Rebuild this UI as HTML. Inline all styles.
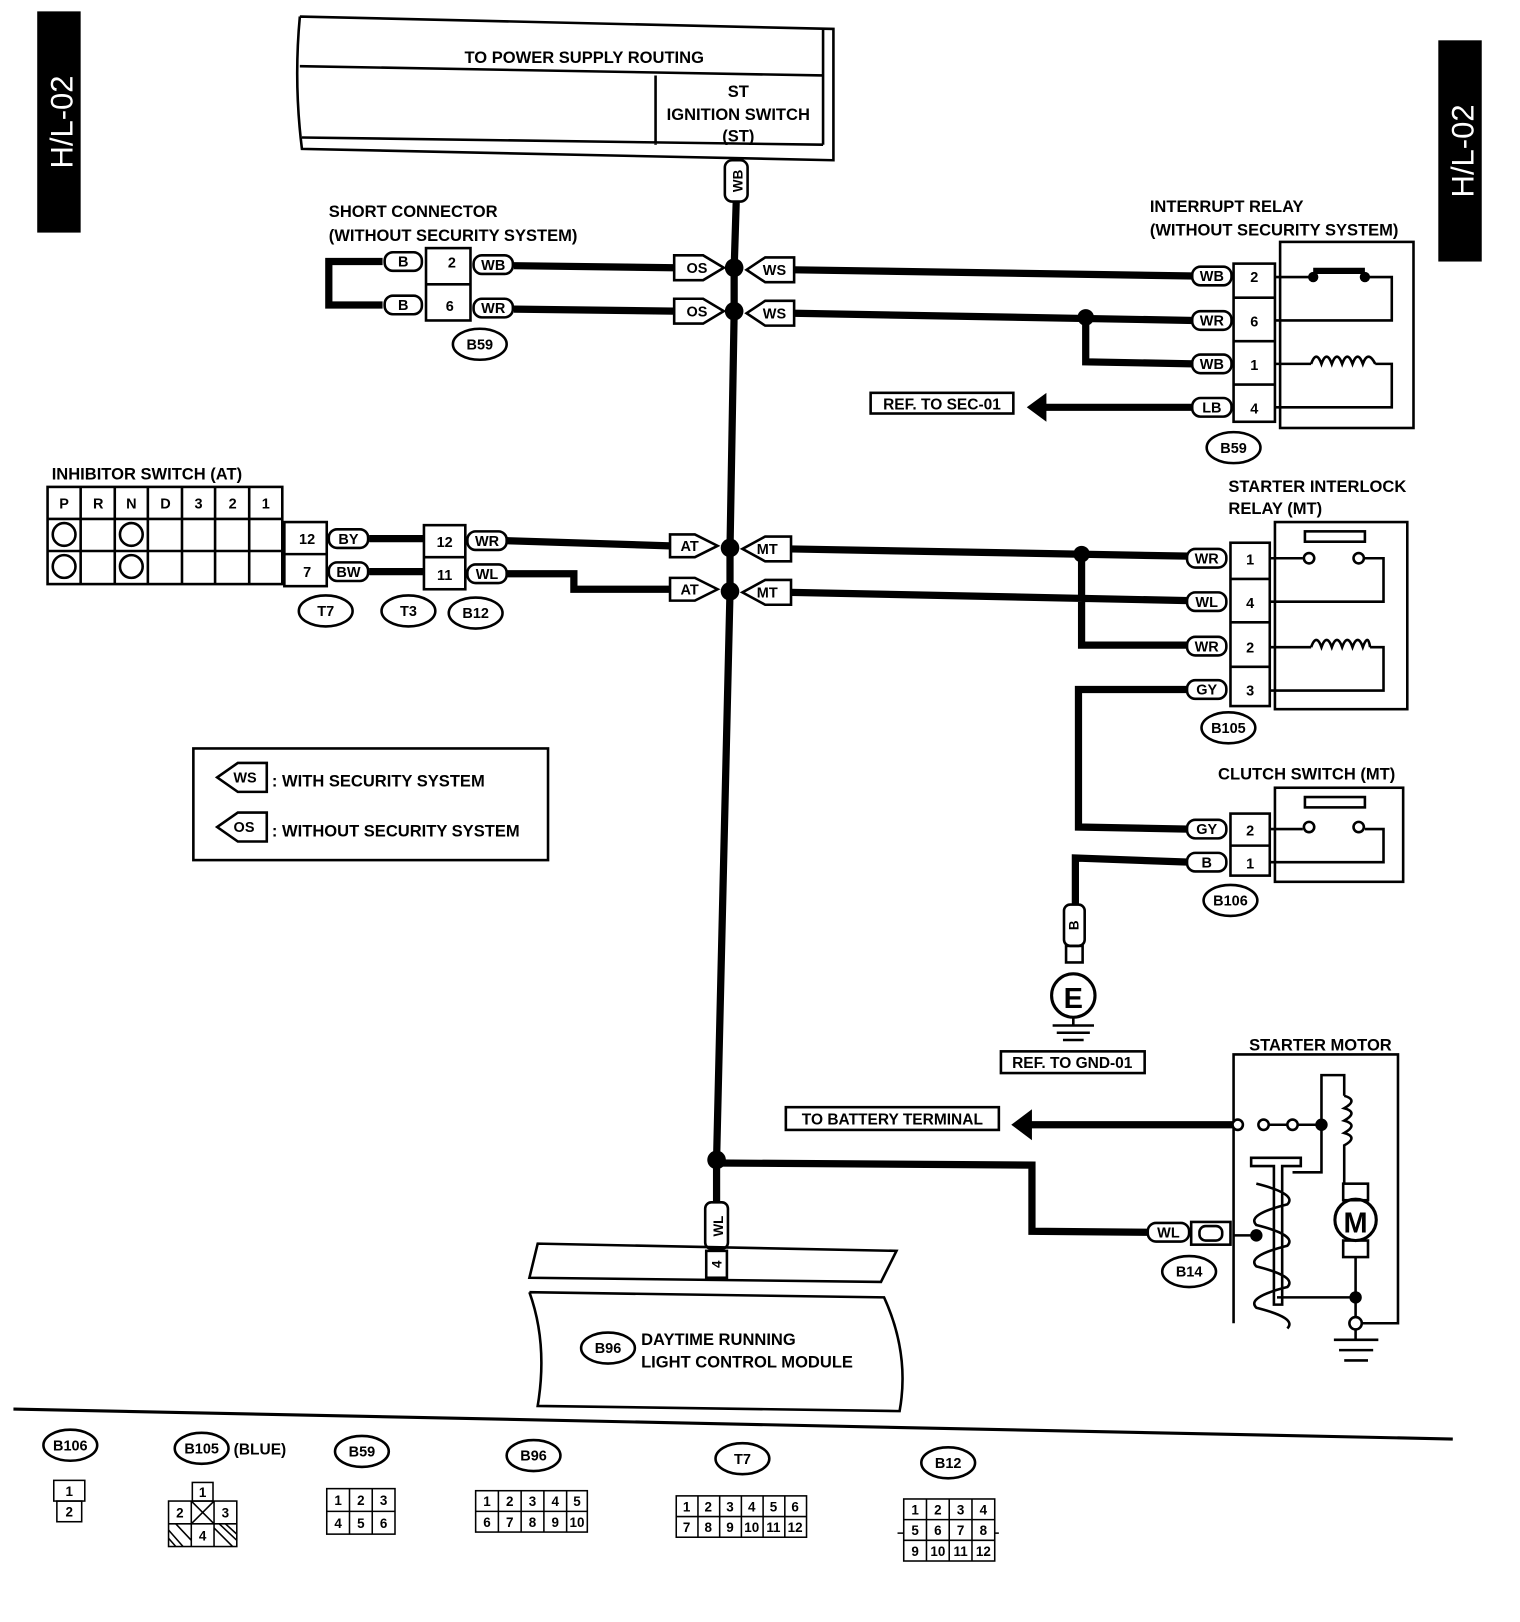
<!DOCTYPE html>
<html><head><meta charset="utf-8"><style>
html,body{margin:0;padding:0;background:#fff}
svg{display:block}
text{font-family:"Liberation Sans",sans-serif;font-weight:bold;fill:#000}
</style></head><body>
<svg width="1520" height="1622" viewBox="0 0 1470 1569" preserveAspectRatio="none" xmlns="http://www.w3.org/2000/svg">
<g fill="none" stroke="#000" stroke-width="2">
<rect x="37" y="12" width="40" height="212" fill="#000"/>
<rect x="1392" y="40" width="40" height="212" fill="#000"/>
</g>
<text transform="translate(70,118) rotate(-90)" font-size="30" text-anchor="middle" style="fill:#fff;font-weight:normal">H/L-02</text>
<text transform="translate(1425,146) rotate(-90)" font-size="30" text-anchor="middle" style="fill:#fff;font-weight:normal">H/L-02</text>

<g fill="none" stroke="#000" stroke-width="2.5">
<path d="M290,16 L806,28 L806,155 L292,144 Q284,80 290,16"/>
<path d="M290,64 L796,73 M292,133 L796,140 M796,28 L796,140 M634,73 L634,140"/>
<rect x="412" y="240" width="43" height="70"/>
<line x1="412" y1="275" x2="455" y2="275"/>
<rect x="1193" y="255" width="40" height="153"/>
<path d="M1193,288 H1233 M1193,330 H1233 M1193,372 H1233"/>
<rect x="1238" y="234" width="129" height="180"/>
<path d="M1233,268 H1270 M1320,268 H1346 V310 H1233 M1233,352 H1268 M1330,352 H1346 V394 H1233"/>
<path d="M1268,352 q5,-14 10,0 q5,-14 10,0 q5,-14 10,0 q5,-14 10,0 q5,-14 10,0 q5,-14 12,0"/>
<rect x="842" y="380" width="138" height="20"/>
<rect x="46" y="471" width="227" height="94"/>
<path d="M46,502 H273 M46,533 H273"/>
<path d="M78,471 V565 M111,471 V565 M143,471 V565 M176,471 V565 M208,471 V565 M241,471 V565"/>
<circle cx="62" cy="517" r="11"/><circle cx="62" cy="548" r="11"/>
<circle cx="127" cy="517" r="11"/><circle cx="127" cy="548" r="11"/>
<rect x="275" y="505" width="41" height="62"/><line x1="275" y1="536" x2="316" y2="536"/>
<rect x="410" y="508" width="40" height="62"/><line x1="410" y1="539" x2="450" y2="539"/>
<rect x="1190" y="525" width="38" height="158"/>
<path d="M1190,560 H1228 M1190,602 H1228 M1190,645 H1228"/>
<rect x="1233" y="505" width="128" height="181"/>
<rect x="1262" y="514" width="58" height="10"/>
<path d="M1228,540 H1260 M1320,540 H1338 V582 H1228 M1228,626 H1268 M1325,626 H1338 V668 H1228"/>
<path d="M1268,626 q5,-14 10,0 q5,-14 10,0 q5,-14 10,0 q5,-14 10,0 q5,-14 10,0 q5,-14 7,0"/>
<circle cx="1266" cy="540" r="5"/><circle cx="1314" cy="540" r="5"/>
<rect x="1190" y="787" width="38" height="60"/><line x1="1190" y1="818" x2="1228" y2="818"/>
<rect x="1233" y="762" width="124" height="91"/>
<rect x="1262" y="771" width="58" height="10"/>
<path d="M1228,802 H1260 M1320,802 H1338 V834 H1228"/>
<circle cx="1266" cy="800" r="5"/><circle cx="1314" cy="800" r="5"/>
<rect x="1029" y="875" width="20" height="40" rx="6"/>
<rect x="1031" y="915" width="16" height="16"/>
<circle cx="1038" cy="963" r="21" stroke-width="3"/>
<path d="M1038,984 V992 M1018,992 H1058 M1022,999 H1054 M1028,1006 H1048"/>
<rect x="968" y="1017" width="139" height="21"/>
<path d="M1193,1280 V1020 H1352 V1280 H1310"/>
<rect x="760" y="1071" width="206" height="22"/>
<circle cx="1197" cy="1088" r="5" fill="#fff"/><circle cx="1222" cy="1088" r="5"/><circle cx="1250" cy="1088" r="5"/>
<path d="M1227,1088 H1245 M1255,1088 H1278 V1134 H1250 M1278,1088 V1040 H1300 V1060"/>
<path d="M1300,1060 q14,4 0,12 q14,4 0,12 q14,4 0,12 q14,4 0,12 V1145"/>
<rect x="1299" y="1145" width="24" height="16"/><rect x="1299" y="1200" width="24" height="16"/>
<circle cx="1311" cy="1180" r="20" stroke-width="3"/>
<path d="M1311,1216 V1255 M1235,1255 H1311 M1311,1255 V1280"/>
<path d="M1210,1120 H1258 V1128 H1240 V1262 H1232 V1128 H1210 Z"/>
<path d="M1215,1145 q40,10 30,20 q-40,10 -30,20 q40,10 30,20 q-40,10 -30,20 q40,10 30,20 q-40,10 -30,20 q40,10 30,20"/>
<path d="M1193,1195 H1215"/>
<circle cx="1311" cy="1280" r="6" fill="#fff"/>
<path d="M1311,1286 V1296 M1290,1296 H1333 M1295,1306 H1328 M1300,1316 H1323"/>
<rect x="1152" y="1182" width="38" height="22"/><rect x="1160" y="1186" width="22" height="14" rx="6"/>
<rect x="187" y="724" width="343" height="108"/>
<path d="M520,1203 L867,1210 L852,1240 L512,1236 Z"/>
<path d="M512,1250 L855,1255 Q880,1310 870,1365 L520,1360 Q530,1300 512,1250"/>
<rect x="683" y="1210" width="20" height="26"/>
<rect x="682" y="1163" width="22" height="45" rx="6"/>
<path d="M13,1363 L1405,1392" stroke-width="3"/>
</g>

<g fill="none" stroke="#000" stroke-width="7">
<path d="M712,195 L710,260 L710,302 L706,530 L706,572 L693,1122 L693,1163"/>
<path d="M370,253 H318 V295 H370"/>
<path d="M497,257 L652,259 M497,299 L652,301"/>
<path d="M768,261 L1155,267 M768,303 L1155,310 M1050,307 V350 L1155,352 M1155,394 H1010"/>
<path d="M357,521 H410 M357,553 H410"/>
<path d="M490,523 L648,528 M490,555 H555 V570 H648"/>
<path d="M765,531 L1150,538 M765,573 L1150,581 M1046,536 V624 H1150 M1150,667 H1043 V800 L1150,802 M1150,834 L1040,830 V875"/>
<path d="M993,1088 H1192 M693,1125 L998,1127 V1191 L1110,1192"/>
<path d="M1270,262 H1320" stroke-width="6"/>
</g>
<polygon points="993,394 1012,380 1012,408" fill="#000"/>
<polygon points="978,1088 998,1073 998,1103" fill="#000"/>

<g fill="#000">
<circle cx="710" cy="259" r="9"/><circle cx="710" cy="301" r="9"/>
<circle cx="706" cy="530" r="9"/><circle cx="706" cy="572" r="9"/>
<circle cx="693" cy="1122" r="9"/><circle cx="1050" cy="307" r="8"/>
<circle cx="1046" cy="536" r="8"/><circle cx="1278" cy="1088" r="6"/>
<circle cx="1215" cy="1195" r="6"/><circle cx="1311" cy="1255" r="6"/>
<circle cx="1270" cy="268" r="5"/><circle cx="1320" cy="268" r="5"/>
</g>

<g fill="#fff" stroke="#000" stroke-width="2.5">
<polygon points="652,247 680,247 700,259 680,271 652,271"/>
<polygon points="652,289 680,289 700,301 680,313 652,313"/>
<polygon points="768,249 740,249 722,261 740,273 768,273"/>
<polygon points="768,291 740,291 722,303 740,315 768,315"/>
<polygon points="648,517 672,517 694,528 672,539 648,539"/>
<polygon points="648,559 672,559 694,570 672,581 648,581"/>
<polygon points="765,519 740,519 718,531 740,543 765,543"/>
<polygon points="765,561 740,561 718,573 740,585 765,585"/>
<polygon points="258,738 230,738 210,752 230,766 258,766"/>
<polygon points="258,786 230,786 210,800 230,814 258,814"/>
<rect x="701" y="155" width="22" height="40" rx="7"/>
<rect x="372" y="244" width="36" height="18" rx="8"/><rect x="372" y="286" width="36" height="18" rx="8"/>
<rect x="458" y="247" width="38" height="18" rx="8"/><rect x="458" y="289" width="38" height="18" rx="8"/>
<rect x="1153" y="258" width="38" height="18" rx="8"/><rect x="1153" y="301" width="38" height="18" rx="8"/>
<rect x="1153" y="343" width="38" height="18" rx="8"/><rect x="1153" y="385" width="38" height="18" rx="8"/>
<rect x="318" y="512" width="38" height="18" rx="8"/><rect x="318" y="544" width="38" height="18" rx="8"/>
<rect x="452" y="514" width="38" height="18" rx="8"/><rect x="452" y="546" width="38" height="18" rx="8"/>
<rect x="1148" y="531" width="38" height="18" rx="8"/><rect x="1148" y="573" width="38" height="18" rx="8"/>
<rect x="1148" y="616" width="38" height="18" rx="8"/><rect x="1148" y="658" width="38" height="18" rx="8"/>
<rect x="1148" y="793" width="38" height="18" rx="8"/><rect x="1148" y="825" width="38" height="18" rx="8"/>
<rect x="1110" y="1183" width="40" height="18" rx="8"/>
<ellipse cx="464" cy="333" rx="26" ry="15"/><ellipse cx="1193" cy="433" rx="26" ry="15"/>
<ellipse cx="315" cy="591" rx="26" ry="15"/><ellipse cx="395" cy="591" rx="26" ry="15"/><ellipse cx="460" cy="593" rx="26" ry="15"/>
<ellipse cx="1188" cy="704" rx="26" ry="15"/><ellipse cx="1190" cy="871" rx="26" ry="15"/>
<ellipse cx="1150" cy="1230" rx="26" ry="15"/><ellipse cx="588" cy="1304" rx="26" ry="15"/>
<ellipse cx="68" cy="1398" rx="26" ry="15"/><ellipse cx="195" cy="1401" rx="26" ry="15"/>
<ellipse cx="350" cy="1404" rx="26" ry="15"/><ellipse cx="516" cy="1408" rx="26" ry="15"/>
<ellipse cx="718" cy="1411" rx="26" ry="15"/><ellipse cx="917" cy="1415" rx="26" ry="15"/>
</g>

<g font-size="16">
<text x="565" y="61" text-anchor="middle">TO POWER SUPPLY ROUTING</text>
<text x="714" y="94" text-anchor="middle">ST</text>
<text x="714" y="116" text-anchor="middle">IGNITION SWITCH</text>
<text x="714" y="137" text-anchor="middle">(ST)</text>
<text x="318" y="210">SHORT CONNECTOR</text>
<text x="318" y="233">(WITHOUT SECURITY SYSTEM)</text>
<text x="1112" y="205">INTERRUPT RELAY</text>
<text x="1112" y="228">(WITHOUT SECURITY SYSTEM)</text>
<text x="911" y="396" text-anchor="middle" font-size="15">REF. TO SEC-01</text>
<text x="50" y="464">INHIBITOR SWITCH (AT)</text>
<text x="1188" y="476">STARTER INTERLOCK</text>
<text x="1188" y="497">RELAY (MT)</text>
<text x="1178" y="754">CLUTCH SWITCH (MT)</text>
<text x="1037" y="1033" text-anchor="middle" font-size="15">REF. TO GND-01</text>
<text x="1208" y="1016">STARTER MOTOR</text>
<text x="863" y="1088" text-anchor="middle" font-size="15">TO BATTERY TERMINAL</text>
<text x="263" y="761">: WITH SECURITY SYSTEM</text>
<text x="263" y="809">: WITHOUT SECURITY SYSTEM</text>
<text x="620" y="1301">DAYTIME RUNNING</text>
<text x="620" y="1323">LIGHT CONTROL MODULE</text>
</g>
<g font-size="14" text-anchor="middle">
<text x="674" y="264">OS</text><text x="674" y="306">OS</text>
<text x="749" y="266">WS</text><text x="749" y="308">WS</text>
<text x="667" y="533">AT</text><text x="667" y="575">AT</text>
<text x="742" y="536">MT</text><text x="742" y="578">MT</text>
<text x="237" y="757">WS</text><text x="236" y="805">OS</text>
<text x="390" y="258">B</text><text x="390" y="300">B</text>
<text x="437" y="259">2</text><text x="435" y="301">6</text>
<text x="477" y="261">WB</text><text x="477" y="303">WR</text>
<text x="1172" y="272">WB</text><text x="1172" y="315">WR</text><text x="1172" y="357">WB</text><text x="1172" y="399">LB</text>
<text x="1213" y="273">2</text><text x="1213" y="316">6</text><text x="1213" y="358">1</text><text x="1213" y="400">4</text>
<text x="62" y="492">P</text><text x="95" y="492">R</text><text x="127" y="492">N</text><text x="160" y="492">D</text><text x="192" y="492">3</text><text x="225" y="492">2</text><text x="257" y="492">1</text>
<text x="297" y="526">12</text><text x="297" y="558">7</text>
<text x="337" y="526">BY</text><text x="337" y="558">BW</text>
<text x="430" y="529">12</text><text x="430" y="561">11</text>
<text x="471" y="528">WR</text><text x="471" y="560">WL</text>
<text x="1167" y="545">WR</text><text x="1167" y="587">WL</text><text x="1167" y="630">WR</text><text x="1167" y="672">GY</text>
<text x="1209" y="546">1</text><text x="1209" y="588">4</text><text x="1209" y="631">2</text><text x="1209" y="673">3</text>
<text x="1167" y="807">GY</text><text x="1167" y="839">B</text>
<text x="1209" y="808">2</text><text x="1209" y="840">1</text>
<text x="1130" y="1197">WL</text>
<text x="464" y="338">B59</text><text x="1193" y="438">B59</text>
<text x="315" y="596">T7</text><text x="395" y="596">T3</text><text x="460" y="598">B12</text>
<text x="1188" y="709">B105</text><text x="1190" y="876">B106</text><text x="1150" y="1235">B14</text>
<text x="588" y="1309">B96</text>
<text x="68" y="1403">B106</text><text x="195" y="1406">B105</text><text x="350" y="1409">B59</text>
<text x="516" y="1413">B96</text><text x="718" y="1416">T7</text><text x="917" y="1420">B12</text>
</g>
<text x="226" y="1407" font-size="15">(BLUE)</text>
<text transform="translate(718,175) rotate(-90)" font-size="13" text-anchor="middle">WB</text>
<text transform="translate(1043,895) rotate(-90)" font-size="13" text-anchor="middle">B</text>
<text transform="translate(699,1186) rotate(-90)" font-size="13" text-anchor="middle">WL</text>
<text transform="translate(698,1223) rotate(-90)" font-size="13" text-anchor="middle">4</text>
<text x="1311" y="1192" font-size="28" text-anchor="middle">M</text>
<text x="1038" y="975" font-size="28" text-anchor="middle">E</text>

<g fill="none" stroke="#000" stroke-width="1.5">
<rect x="52" y="1432" width="30" height="20"/><rect x="55" y="1452" width="24" height="20"/>
<rect x="186" y="1434" width="20" height="18"/>
<rect x="163" y="1452" width="66" height="44"/><path d="M185,1452 V1496 M207,1452 V1496 M163,1474 H229 M185,1452 L207,1474 M207,1452 L185,1474"/>
<path d="M163,1480 L177,1496 M163,1488 L170,1496 M170,1474 L185,1490 M207,1478 L225,1496 M212,1474 L229,1490 M218,1474 L229,1484"/>
<rect x="316" y="1440" width="66" height="44"/><path d="M338,1440 V1484 M360,1440 V1484 M316,1462 H382"/>
<rect x="460" y="1442" width="108" height="40"/><path d="M482,1442 V1482 M504,1442 V1482 M526,1442 V1482 M548,1442 V1482 M460,1462 H568"/>
<rect x="654" y="1447" width="126" height="40"/><path d="M675,1447 V1487 M696,1447 V1487 M717,1447 V1487 M738,1447 V1487 M759,1447 V1487 M654,1467 H780"/>
<rect x="874" y="1450" width="88" height="60"/><path d="M896,1450 V1510 M918,1450 V1510 M940,1450 V1510 M874,1470 H962 M874,1490 H962 M868,1483 H874 M962,1483 H966"/>
</g>
<g font-size="13" text-anchor="middle" style="font-weight:normal">
<text x="67" y="1447">1</text><text x="67" y="1467">2</text>
<text x="196" y="1448">1</text><text x="174" y="1468">2</text><text x="218" y="1468">3</text><text x="196" y="1490">4</text>
<text x="327" y="1456">1</text><text x="349" y="1456">2</text><text x="371" y="1456">3</text>
<text x="327" y="1478">4</text><text x="349" y="1478">5</text><text x="371" y="1478">6</text>
<text x="471" y="1457">1</text><text x="493" y="1457">2</text><text x="515" y="1457">3</text><text x="537" y="1457">4</text><text x="558" y="1457">5</text>
<text x="471" y="1477">6</text><text x="493" y="1477">7</text><text x="515" y="1477">8</text><text x="537" y="1477">9</text><text x="558" y="1477">10</text>
<text x="664" y="1462">1</text><text x="685" y="1462">2</text><text x="706" y="1462">3</text><text x="727" y="1462">4</text><text x="748" y="1462">5</text><text x="769" y="1462">6</text>
<text x="664" y="1482">7</text><text x="685" y="1482">8</text><text x="706" y="1482">9</text><text x="727" y="1482">10</text><text x="748" y="1482">11</text><text x="769" y="1482">12</text>
<text x="885" y="1465">1</text><text x="907" y="1465">2</text><text x="929" y="1465">3</text><text x="951" y="1465">4</text>
<text x="885" y="1485">5</text><text x="907" y="1485">6</text><text x="929" y="1485">7</text><text x="951" y="1485">8</text>
<text x="885" y="1505">9</text><text x="907" y="1505">10</text><text x="929" y="1505">11</text><text x="951" y="1505">12</text>
</g>
</svg>
</body></html>
